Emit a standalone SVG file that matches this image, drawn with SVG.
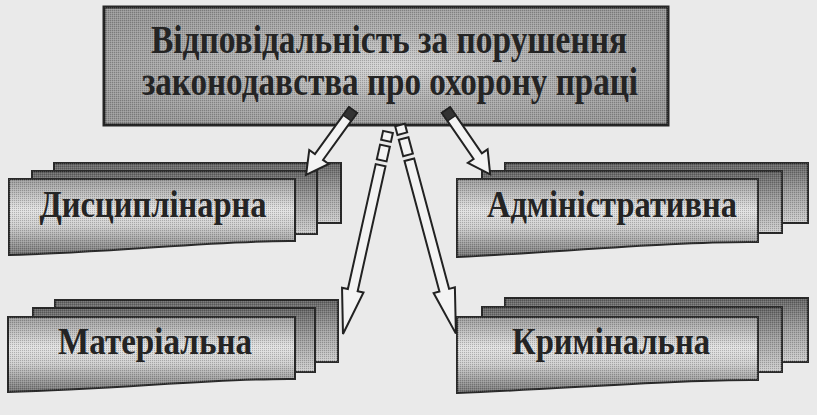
<svg xmlns="http://www.w3.org/2000/svg" width="817" height="415" viewBox="0 0 817 415">
<defs>
<radialGradient id="gTop" cx="0.5" cy="0.5" r="0.6">
<stop offset="0" stop-color="#d4d4d4"/>
<stop offset="0.45" stop-color="#b0b0b0"/>
<stop offset="1" stop-color="#979797"/>
</radialGradient>
<linearGradient id="gFront" x1="0" y1="0" x2="0" y2="1">
<stop offset="0" stop-color="#9a9a9a"/>
<stop offset="0.4" stop-color="#e2e2e2"/>
<stop offset="0.62" stop-color="#cecece"/>
<stop offset="1" stop-color="#747474"/>
</linearGradient>
<linearGradient id="gBack" x1="0" y1="0" x2="0" y2="1">
<stop offset="0" stop-color="#646464"/>
<stop offset="0.5" stop-color="#a2a2a2"/>
<stop offset="1" stop-color="#cecece"/>
</linearGradient>
<pattern id="dots" width="2" height="2" patternUnits="userSpaceOnUse">
<rect x="0" y="0" width="1" height="1" fill="#000" fill-opacity="0.2"/>
<rect x="1" y="1" width="1" height="1" fill="#fff" fill-opacity="0.14"/>
</pattern>
</defs>
<style>
.frame{stroke:#262626;stroke-width:3}
.back{fill:url(#gBack);stroke:#2a2a2a;stroke-width:2}
.front{fill:url(#gFront);stroke:#2a2a2a;stroke-width:2}
.tex{fill:url(#dots);stroke:none}
.lbl{font-weight:bold;fill:#242424;text-anchor:middle}
.arr{fill:#f3f3f3;stroke:#222;stroke-width:2;stroke-linejoin:miter}
.cap{fill:#333;stroke:#222;stroke-width:1.5}
</style>
<rect x="0" y="0" width="817" height="415" fill="#eaeaea"/>

<g id="top">
<rect class="frame" x="104" y="7" width="564" height="118" fill="url(#gTop)"/>
<rect class="tex" x="104" y="7" width="564" height="118"/>
<text class="lbl" font-family="Liberation Serif, DejaVu Serif, serif" x="389" y="53" font-size="41" textLength="476" lengthAdjust="spacingAndGlyphs">Відповідальність  за порушення</text>
<text class="lbl" font-family="Liberation Serif, DejaVu Serif, serif" x="390" y="95" font-size="41" textLength="496" lengthAdjust="spacingAndGlyphs">законодавства про охорону праці</text>
</g>

<g id="dysc">
<rect class="back" x="54" y="163" width="287" height="60"/>
<rect class="tex" x="54" y="163" width="287" height="60"/>
<rect class="back" x="32" y="171" width="285" height="63"/>
<rect class="tex" x="32" y="171" width="285" height="63"/>
<path class="front" d="M9,179 L295,179 L295,241 C220,240 120,252 9,255 Z"/>
<path class="tex" d="M9,179 L295,179 L295,241 C220,240 120,252 9,255 Z"/>
<text class="lbl" font-family="Liberation Serif, DejaVu Serif, serif" x="153" y="217" font-size="37" textLength="227" lengthAdjust="spacingAndGlyphs">Дисциплінарна</text>
</g>

<g id="admin">
<rect class="back" x="505" y="163" width="303" height="60"/>
<rect class="tex" x="505" y="163" width="303" height="60"/>
<rect class="back" x="482" y="171" width="300" height="62"/>
<rect class="tex" x="482" y="171" width="300" height="62"/>
<path class="front" d="M457,179 L758,179 L758,242 C680,241 560,252 457,257 Z"/>
<path class="tex" d="M457,179 L758,179 L758,242 C680,241 560,252 457,257 Z"/>
<text class="lbl" font-family="Liberation Serif, DejaVu Serif, serif" x="612" y="217" font-size="37" textLength="250" lengthAdjust="spacingAndGlyphs">Адміністративна</text>
</g>

<g id="mater">
<rect class="back" x="55" y="300" width="283" height="62"/>
<rect class="tex" x="55" y="300" width="283" height="62"/>
<rect class="back" x="33" y="308" width="282" height="64"/>
<rect class="tex" x="33" y="308" width="282" height="64"/>
<path class="front" d="M8,317 L295,317 L295,379 C220,378 120,389 8,392 Z"/>
<path class="tex" d="M8,317 L295,317 L295,379 C220,378 120,389 8,392 Z"/>
<text class="lbl" font-family="Liberation Serif, DejaVu Serif, serif" x="155" y="354" font-size="37" textLength="194" lengthAdjust="spacingAndGlyphs">Матеріальна</text>
</g>

<g id="krym">
<rect class="back" x="505" y="298" width="303" height="64"/>
<rect class="tex" x="505" y="298" width="303" height="64"/>
<rect class="back" x="482" y="307" width="300" height="65"/>
<rect class="tex" x="482" y="307" width="300" height="65"/>
<path class="front" d="M457,317 L758,317 L758,380 C680,379 560,389 457,393 Z"/>
<path class="tex" d="M457,317 L758,317 L758,380 C680,379 560,389 457,393 Z"/>
<text class="lbl" font-family="Liberation Serif, DejaVu Serif, serif" x="611" y="354" font-size="37" textLength="198" lengthAdjust="spacingAndGlyphs">Кримінальна</text>
</g>

<g id="connectors">
<g transform="translate(353,110) rotate(35.9)">
<polygon class="arr" points="-5,0 -5,58 -12,58 0,80 12,58 5,58 5,0"/>
<rect class="cap" x="-5" y="0" width="10" height="10"/>
</g>
<g transform="translate(446,110) rotate(-34.5)">
<polygon class="arr" points="-5,0 -5,56 -12,56 0,78 12,56 5,56 5,0"/>
<rect class="cap" x="-5" y="0" width="10" height="10"/>
</g>
<g transform="translate(388,132) rotate(12.56)">
<rect class="arr" x="-5" y="0" width="10" height="9"/>
<rect class="arr" x="-5" y="14" width="10" height="15"/>
<polygon class="arr" points="-5,34 -5,162 -11,162 0,207 11,162 5,162 5,34"/>
</g>
<g transform="translate(400,125) rotate(-15)">
<rect class="arr" x="-5" y="0" width="10" height="9"/>
<rect class="arr" x="-5" y="14" width="10" height="17"/>
<polygon class="arr" points="-5,36 -5,171 -11,171 0,216 11,171 5,171 5,36"/>
</g>
</g>
</svg>
